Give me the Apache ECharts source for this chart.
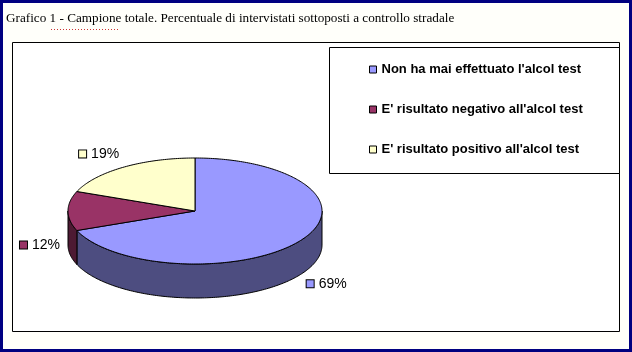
<!DOCTYPE html>
<html lang="it">
<head>
    <meta charset="UTF-8">
    <title>Grafico 1 - Campione totale</title>
    <script src="https://cdn.jsdelivr.net/npm/echarts@6/dist/echarts.min.js"></script>
    <style>
        html, body { margin: 0; padding: 0; }
        #main { width: 632px; height: 352px; }
    </style>
</head>
<body>
    <div id="main"></div>
<script>
    var titolo = "Grafico 1 - Campione totale. Percentuale di intervistati sottoposti a controllo stradale";
    var categorie = ["Non ha mai effettuato l'alcol test", "E' risultato negativo all'alcol test", "E' risultato positivo all'alcol test"];
    var valori = [69, 12, 19];
    var coloriTop = ['#9999FF', '#993366', '#FFFFCC'];
    var coloriLato = ['#4D4D80', '#4D1A33', '#80806A'];

    // geometria della torta 3D (ellisse)
    var CX = 195, CY = 211, RX = 127, RY = 53, DEPTH = 34;
    var totale = valori.reduce(function (a, b) { return a + b; }, 0);

    // angoli (gradi): si parte da ore 12 e si va in senso orario
    var inizio = [];
    var acc = 90;
    valori.forEach(function (v) {
        inizio.push(acc);
        acc -= v / totale * 360;
    });

    function pt(deg, dy) {
        var r = deg * Math.PI / 180;
        return [CX + RX * Math.cos(r), CY - RY * Math.sin(r) + (dy || 0)];
    }

    function arco(a1, a2, dy) {
        // da a1 a a2, passo circa 1 grado
        var pts = [];
        var n = Math.max(2, Math.ceil(Math.abs(a1 - a2)));
        for (var i = 0; i <= n; i++) {
            pts.push(pt(a1 + (a2 - a1) * i / n, dy));
        }
        return pts;
    }

    function renderFetta(idx) {
        return function (params, api) {
            var a1 = inizio[idx];
            var a2 = a1 - valori[idx] / totale * 360;
            var children = [];

            // parete laterale visibile: angoli tra -180 e 0
            var w1 = Math.min(a1, 0), w2 = Math.max(a2, -180);
            var w1b = Math.min(a1 - 360, 0), w2b = Math.max(a2 - 360, -180);
            [[w1, w2], [w1b, w2b]].forEach(function (r) {
                if (r[0] > r[1]) {
                    var top = arco(r[0], r[1], 0);
                    var bot = arco(r[1], r[0], DEPTH);
                    children.push({
                        type: 'polygon',
                        shape: { points: top.concat(bot) },
                        style: { fill: coloriLato[idx], stroke: '#000', lineWidth: 1 }
                    });
                }
            });

            // faccia superiore
            var faccia = [[CX, CY]].concat(arco(a1, a2, 0));
            children.push({
                type: 'polygon',
                shape: { points: faccia },
                style: { fill: coloriTop[idx], stroke: '#000', lineWidth: 1 },
                z2: 10
            });

            // etichetta percentuale
            var mid = (a1 + a2) / 2 * Math.PI / 180;
            var c = Math.cos(mid), s = Math.sin(mid);
            var lx = CX + (RX + 8) * c;
            var ly = CY - (RY + 16) * s + (s < 0 ? DEPTH : 0);
            children.push({
                type: 'text',
                x: lx,
                y: ly,
                z2: 20,
                style: {
                    text: '{m|}{t|' + Math.round(valori[idx] / totale * 100) + '%}',
                    align: c >= 0 ? 'left' : 'right',
                    verticalAlign: 'middle',
                    fontFamily: 'Liberation Sans, Arial, sans-serif',
                    fontSize: 14,
                    fill: '#000',
                    rich: {
                        m: {
                            width: 7,
                            height: 7,
                            backgroundColor: coloriTop[idx],
                            borderColor: '#000',
                            borderWidth: 1
                        },
                        t: {
                            fontFamily: 'Liberation Sans, Arial, sans-serif',
                            fontSize: 14,
                            padding: [0, 0, 0, 5]
                        }
                    }
                }
            });

            return { type: 'group', children: children };
        };
    }

    var serie = categorie.map(function (nome, i) {
        return {
            name: nome,
            type: 'custom',
            coordinateSystem: 'none',
            silent: true,
            animation: false,
            itemStyle: { color: coloriTop[i] },
            data: [[valori[i]]],
            renderItem: renderFetta(i)
        };
    });

    var myChart = echarts.init(document.getElementById('main'), null, { renderer: 'canvas' });

    myChart.setOption({
        backgroundColor: '#FFFFFA',
        animation: false,
        graphic: [
            {   // cornice blu esterna
                type: 'rect', z: -10,
                shape: { x: 1.5, y: 1.5, width: 629, height: 349 },
                style: { fill: '#FFFFFA', stroke: '#000080', lineWidth: 3 }
            },
            {   // riquadro grafico
                type: 'rect', z: -9,
                shape: { x: 12.5, y: 42.5, width: 607, height: 289 },
                style: { fill: '#FFFFFF', stroke: '#000', lineWidth: 1 }
            },
            {   // riquadro legenda
                type: 'rect', z: -8,
                shape: { x: 329.5, y: 47.5, width: 290, height: 126 },
                style: { fill: '#FFFFFF', stroke: '#000', lineWidth: 1 }
            },
            {
                type: 'text', left: 6, top: 12,
                style: {
                    text: titolo,
                    fontFamily: 'Liberation Serif, Times New Roman, serif',
                    fontSize: 13.2,
                    fill: '#000'
                }
            },
            {   // sottolineatura puntinata (correttore ortografico)
                type: 'line', z: 5,
                shape: { x1: 51, y1: 29.5, x2: 120, y2: 29.5 },
                style: { stroke: '#CC3333', lineWidth: 1, lineDash: [1, 2] }
            }
        ],
        legend: {
            orient: 'vertical',
            left: 369,
            top: 63,
            padding: 0,
            itemGap: 27,
            itemWidth: 7,
            itemHeight: 7,
            icon: 'rect',
            selectedMode: false,
            itemStyle: { borderColor: '#000', borderWidth: 1 },
            textStyle: {
                fontFamily: 'Liberation Sans, Arial, sans-serif',
                fontWeight: 'bold',
                fontSize: 13,
                color: '#000'
            },
            data: categorie
        },
        series: serie
    });
</script>
</body>
</html>
